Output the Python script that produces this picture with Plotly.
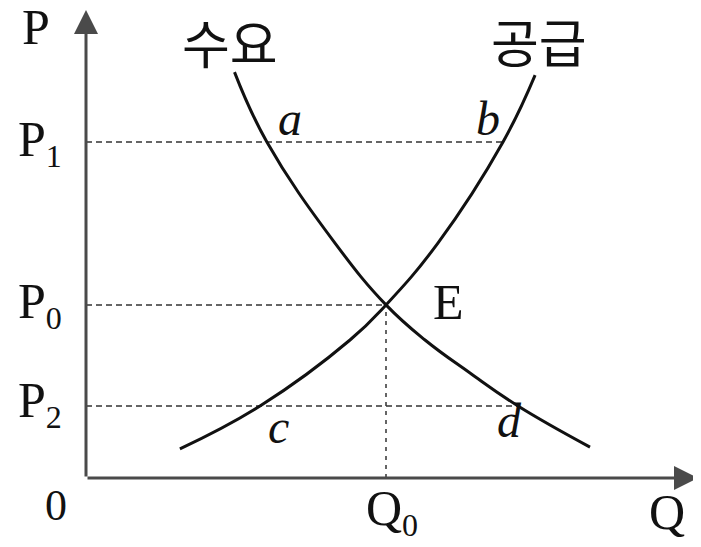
"""Supply and demand diagram (수요 / 공급) with price floors/ceilings."""

import plotly.graph_objects as go

# curve points (Q, P)
demand_q = [4.95, 6.03, 8.3, 10.0, 11.3, 12.8, 14.4, 16.8]
demand_p = [13.53, 11.2, 7.83, 5.77, 4.6, 3.5, 2.4, 1.03]
supply_q = [3.13, 5.8, 8.8, 10.0, 11.73, 13.9, 14.97]
supply_p = [0.97, 2.4, 4.6, 5.77, 7.83, 11.2, 13.43]

# reference levels
q0 = 10.0
p_levels = {"P1": 11.2, "P0": 5.77, "P2": 2.4}
p1_q_end = 13.9   # dashed P1 reaches supply at b
p2_q_end = 14.4   # dashed P2 reaches demand at d

SERIF = "Liberation Serif"
KOREAN = "Noto Sans CJK KR"
INK = "#111111"
AXIS = "#4a4a4a"

fig = go.Figure()

# dashed guide lines
for q_end, p in [(p1_q_end, p_levels["P1"]), (q0, p_levels["P0"]), (p2_q_end, p_levels["P2"])]:
    fig.add_trace(go.Scatter(
        x=[0, q_end], y=[p, p], mode="lines",
        line=dict(color="#333333", width=1.5, dash="6px,4px"),
        hoverinfo="skip", showlegend=False,
    ))
fig.add_trace(go.Scatter(
    x=[q0, q0], y=[0, p_levels["P0"]], mode="lines",
    line=dict(color="#333333", width=1.5, dash="4px,5px"),
    hoverinfo="skip", showlegend=False,
))

# demand and supply curves
fig.add_trace(go.Scatter(
    x=demand_q, y=demand_p, mode="lines", name="수요",
    line=dict(color=INK, width=3, shape="spline", smoothing=1.2),
    showlegend=False,
))
fig.add_trace(go.Scatter(
    x=supply_q, y=supply_p, mode="lines", name="공급",
    line=dict(color=INK, width=3, shape="spline", smoothing=1.2),
    showlegend=False,
))

# axes drawn as arrows
for tip, tail in [((0, 15.6), (0, 0)), ((20.4, 0), (0, 0))]:
    fig.add_annotation(
        x=tip[0], y=tip[1], ax=tail[0], ay=tail[1],
        xref="x", yref="y", axref="x", ayref="y",
        text="", showarrow=True, arrowhead=2, arrowsize=1.6,
        arrowwidth=3, arrowcolor=AXIS,
    )


def label(x, y, text, size=50, family=SERIF):
    fig.add_annotation(
        x=x, y=y, xref="x", yref="y", text=text, showarrow=False,
        xanchor="center", yanchor="middle",
        font=dict(family=family, size=size, color=INK),
    )


def sub(base, idx):
    return f"{base}<sub><span style='font-size:32px'>{idx}</span></sub>"


label(-1.67, 15.05, "P")
label(-1.55, 11.2, sub("P", 1))
label(-1.55, 5.77, sub("P", 0))
label(-1.55, 2.5, sub("P", 2))
label(-1.0, -0.93, "0", size=44)
label(10.2, -1.13, sub("Q", 0))
label(19.37, -1.13, "Q")
label(12.07, 5.87, "E")
label(6.8, 11.97, "<i>a</i>", size=48)
label(13.4, 12.0, "<i>b</i>", size=48)
label(6.43, 1.73, "<i>c</i>", size=48)
label(14.13, 1.93, "<i>d</i>", size=48)
label(4.8, 14.55, "수요", size=52, family=KOREAN)
label(15.1, 14.6, "공급", size=52, family=KOREAN)

# page body has an 8px margin, so the figure is a bit smaller and ranges
# are set so that the origin lands where the reference has it
W, H = 693, 539
ox, oy, unit = 78, 470, 30
fig.update_xaxes(range=[-ox / unit, (W - ox) / unit], visible=False, fixedrange=True)
fig.update_yaxes(range=[(oy - H) / unit, oy / unit], visible=False, fixedrange=True)
fig.update_layout(
    width=W, height=H,
    margin=dict(l=0, r=0, t=0, b=0),
    paper_bgcolor="white", plot_bgcolor="white",
    showlegend=False,
)

fig.write_html("out.html")
